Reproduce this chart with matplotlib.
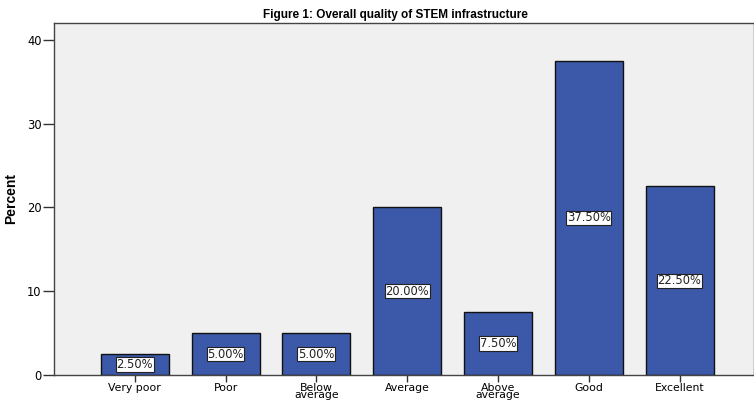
import matplotlib
matplotlib.use("Agg")
import matplotlib.pyplot as plt

categories = ["Very poor", "Poor", "Below\naverage", "Average", "Above\naverage", "Good", "Excellent"]
percent = [2.5, 5.0, 5.0, 20.0, 7.5, 37.5, 22.5]
y_ticks = [0, 10, 20, 30, 40]

plt.rcParams["font.family"] = ["Liberation Sans", "DejaVu Sans"]

fig = plt.figure(figsize=(7.54, 4.03), dpi=100)
ax = fig.add_axes([0.0716, 0.0695, 0.9284, 0.8735])
ax.set_facecolor("#F0F0F0")

x = list(range(len(categories)))
ax.bar(x, percent, width=0.75, color="#3C58A8", edgecolor="#111111", linewidth=1.0, zorder=2)

for xi, v in zip(x, percent):
    ax.text(xi, v / 2, f"{v:.2f}%", ha="center", va="center", fontsize=8.3, color="#222222",
            family="DejaVu Sans",
            bbox=dict(boxstyle="square,pad=0.06", facecolor="white", edgecolor="#222222", linewidth=0.8),
            zorder=3)

ax.set_xlim(-0.89, 6.82)
ax.set_ylim(0, 42)
ax.set_yticks(y_ticks)
ax.set_xticks(x)
ax.set_xticklabels(categories, fontsize=7.8, linespacing=0.7, family="DejaVu Sans")
ax.set_yticklabels([str(t) for t in y_ticks], fontsize=8.3, family="DejaVu Sans")
ax.tick_params(axis="y", length=8, width=1, color="#333333", pad=1)
ax.tick_params(axis="x", length=5, width=1, color="#333333", pad=0.5)

for side in ["left", "bottom", "top", "right"]:
    ax.spines[side].set_color("#444444")
    ax.spines[side].set_linewidth(1.0)

ax.set_ylabel("Percent", fontsize=10, fontweight="bold", labelpad=6)
fig.text(0.525, 0.948, "Figure 1: Overall quality of STEM infrastructure", ha="center", va="bottom",
         fontsize=8.5, fontweight="bold")

fig.savefig("out.png", dpi=100, facecolor="white")
